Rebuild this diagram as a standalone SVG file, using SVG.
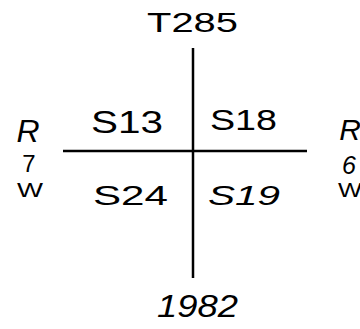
<svg xmlns="http://www.w3.org/2000/svg" width="360" height="329" viewBox="0 0 360 329">
<style>
.t{font-family:"Liberation Sans",Arial,sans-serif;fill:#000;font-weight:normal}
.ln{stroke:#000;stroke-width:2.5;fill:none}
</style>
<rect width="360" height="329" fill="#fff"/>
<g id="connectors">
<line class="ln" x1="193" y1="48" x2="193" y2="278"/>
<line class="ln" x1="63" y1="151" x2="307" y2="151"/>
</g>
<g id="top"><text class="t" x="147" y="32" font-size="28" textLength="91" lengthAdjust="spacingAndGlyphs">T285</text></g>
<g id="bottom"><text class="t" x="157" y="317" font-size="32" font-style="italic" textLength="81" lengthAdjust="spacingAndGlyphs">1982</text></g>
<g id="q1"><text class="t" x="91" y="133" font-size="31" textLength="72" lengthAdjust="spacingAndGlyphs">S13</text></g>
<g id="q2"><text class="t" x="210" y="130" font-size="30" textLength="67" lengthAdjust="spacingAndGlyphs">S18</text></g>
<g id="q3"><text class="t" x="93" y="205" font-size="28" textLength="75" lengthAdjust="spacingAndGlyphs">S24</text></g>
<g id="q4"><text class="t" x="208" y="205" font-size="28" font-style="italic" textLength="72" lengthAdjust="spacingAndGlyphs">S19</text></g>
<g id="left">
<text class="t" x="28" y="142" font-size="32" font-style="italic" text-anchor="middle">R</text>
<text class="t" x="29" y="172" font-size="24" text-anchor="middle">7</text>
<text class="t" x="30" y="197" font-size="21" text-anchor="middle" textLength="26" lengthAdjust="spacingAndGlyphs">W</text>
</g>
<g id="right">
<text class="t" x="350" y="140" font-size="30" font-style="italic" text-anchor="middle">R</text>
<text class="t" x="349" y="174" font-size="25" font-style="italic" text-anchor="middle">6</text>
<text class="t" x="350" y="197" font-size="20" text-anchor="middle" textLength="24" lengthAdjust="spacingAndGlyphs">W</text>
</g>
</svg>
